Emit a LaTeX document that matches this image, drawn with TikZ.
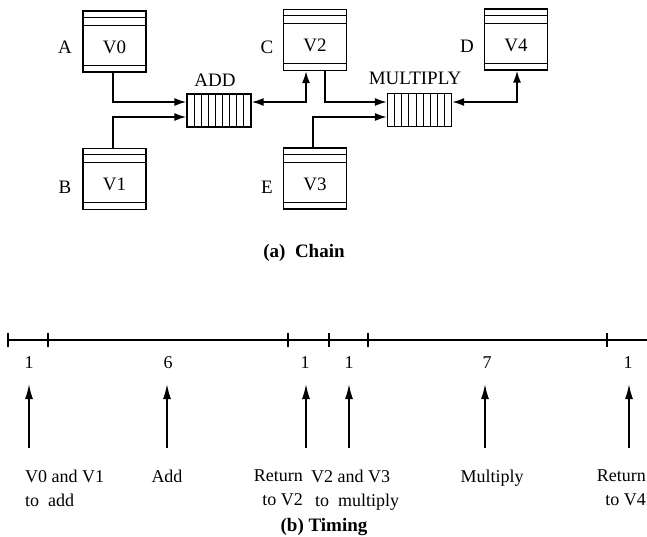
\documentclass[tikz,border=0pt]{standalone}
\usepackage{fontspec}
\setmainfont{Liberation Serif}
\usetikzlibrary{arrows.meta,calc}
\newcommand{\regtext}[1]{\raisebox{-11.5pt}[0pt][0pt]{#1}}
\begin{document}
\begin{tikzpicture}[x=1pt,y=-1pt,
  lbl/.style={font=\fontsize{19}{19}\selectfont, inner sep=0pt},
  reg/.style={draw, line width=1.2pt, minimum width=63pt, minimum height=61pt, inner sep=0pt,
    font=\fontsize{19}{19}\selectfont,
    path picture={
      \draw[line width=0.9pt] ([yshift=-6pt]path picture bounding box.north west) -- ([yshift=-6pt]path picture bounding box.north east);
      \draw[line width=0.9pt] ([yshift=-14pt]path picture bounding box.north west) -- ([yshift=-14pt]path picture bounding box.north east);
      \draw[line width=0.9pt] ([yshift=7pt]path picture bounding box.south west) -- ([yshift=7pt]path picture bounding box.south east);
    }},
  buf/.style={draw, line width=1.2pt, minimum width=64pt, minimum height=33pt, inner sep=0pt,
    path picture={
      \foreach \i in {1,...,8}
        \draw[line width=0.9pt] ($(path picture bounding box.south west)!{\i/9}!(path picture bounding box.south east)$) -- ($(path picture bounding box.north west)!{\i/9}!(path picture bounding box.north east)$);
    }},
  arr/.style={line width=1.8pt, -{Latex[length=12pt,width=8pt]}},
  darr/.style={line width=1.8pt, {Latex[length=12pt,width=8pt]}-{Latex[length=12pt,width=8pt]}},
  tarr/.style={line width=1.6pt, -{Latex[length=15pt,width=8pt]}},
  tl/.style={font=\fontsize{18}{24}\selectfont, inner sep=0pt},
  captxt/.style={font=\fontsize{19}{19}\selectfont\bfseries, inner sep=0pt}
]
\useasboundingbox (0,0) rectangle (647,536);

% registers
\node[reg] (V0) at (114.5,41.5) {\regtext{V0}};
\node[reg] (V1) at (114.5,179) {\regtext{V1}};
\node[reg] (V2) at (315,40) {\regtext{V2}};
\node[reg] (V3) at (315,178.5) {\regtext{V3}};
\node[reg] (V4) at (516,39.5) {\regtext{V4}};

\node[lbl] (lA) at (65,47) {A};
\node[lbl] (lB) at (65,187) {B};
\node[lbl] (lC) at (267,47) {C};
\node[lbl] (lE) at (267,187) {E};
\node[lbl] (lD) at (467,46) {D};

% functional units
\node[buf] (ADD) at (219,110.5) {};
\node[buf] (MUL) at (419.5,110) {};
\node[lbl] (ADDl) at (215,80) {ADD};
\node[lbl] (MULl) at (415,78) {MULTIPLY};

% chaining connections
\draw[arr] ([xshift=-1.5pt]V0.south) |- ([yshift=8.5pt]ADD.west);
\draw[arr] ([xshift=-1.5pt]V1.north) |- ([yshift=-6.5pt]ADD.west);
\draw[darr] ([yshift=8.5pt]ADD.east) -| ([xshift=-9pt]V2.south);
\draw[arr] ([xshift=10pt]V2.south) |- ([yshift=8pt]MUL.west);
\draw[arr] ([xshift=-2pt]V3.north) |- ([yshift=-7pt]MUL.west);
\draw[darr] ([yshift=8pt]MUL.east) -| ([xshift=1pt]V4.south);

\node[captxt] (capa) at (304,253) {(a)\ \ Chain};

% timing line
\draw[line width=1.4pt] (8,340) -- (650,340);
\foreach \x in {8,48,288,329,368,607}
  \draw[line width=1.2pt] (\x,333) -- (\x,347);

\node[tl] (n1) at (29,363) {1};
\node[tl] (n2) at (168,363) {6};
\node[tl] (n3) at (305,363) {1};
\node[tl] (n4) at (349,363) {1};
\node[tl] (n5) at (487,363) {7};
\node[tl] (n6) at (628,363) {1};

\foreach \x [count=\k] in {29,167,306,349,485,629} {
  \coordinate (b\k) at (\x,448);
  \coordinate (t\k) at (\x,384);
  \draw[tarr] (b\k) -- (t\k);
}

\node[tl, anchor=north west, align=left] (L1) at (25,470) {V0 and V1\\to\ \ add};
\node[tl, anchor=north] (L2) at (167,470) {Add};
\node[tl, anchor=north east, align=right] (L3) at (303,470) {Return\\to V2};
\node[tl, anchor=north west, align=left] (L4) at (311,470) {V2 and V3\\\hspace*{4pt}to\ \ multiply};
\node[tl, anchor=north] (L5) at (492,470) {Multiply};
\node[tl, anchor=north east, align=right] (L6) at (646,470) {Return\\to V4};

\node[captxt] (capb) at (324,527) {(b) Timing};
\end{tikzpicture}
\end{document}
